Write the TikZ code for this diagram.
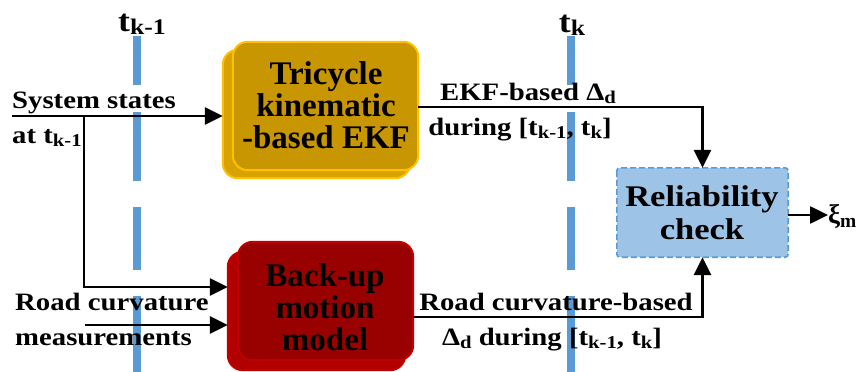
\documentclass[tikz,border=0pt]{standalone}
\usepackage{fontspec}
\setmainfont{Liberation Serif}
\newfontfamily\lblfont{Liberation Serif}[FakeStretch=1.15]
\usetikzlibrary{arrows.meta,calc}
\definecolor{tbar}{HTML}{5B9BD5}
\definecolor{goldF}{HTML}{C89600}
\definecolor{goldB}{HTML}{D8A200}
\definecolor{goldE}{HTML}{FFC000}
\definecolor{redF}{HTML}{990000}
\definecolor{redB}{HTML}{B00000}
\definecolor{redE}{HTML}{C00000}
\definecolor{relF}{HTML}{9DC3E6}
\definecolor{relE}{HTML}{5B9BD5}
\makeatletter
\newcommand\sbx[1]{\raisebox{-0.12em}{\fontsize{\strip@pt\dimexpr0.72\dimexpr\f@size pt\relax\relax}{1}\selectfont #1}}
\makeatother
\begin{document}
\begin{tikzpicture}[x=1pt,y=-1pt,
  tbarl/.style={draw=tbar,line width=8pt},
  lbl/.style={inner sep=0pt,font=\lblfont\bfseries\fontsize{25}{35}\selectfont},
  xilbl/.style={inner sep=0pt,font=\bfseries\fontsize{27}{30}\selectfont},
  toplbl/.style={inner sep=0pt,font=\lblfont\bfseries\fontsize{31}{34}\selectfont},
  btxt/.style={inner sep=0pt,align=center,font=\bfseries\fontsize{33}{32}\selectfont},
  rtxt/.style={inner sep=0pt,align=center,font=\lblfont\bfseries\fontsize{30}{33}\selectfont},
  frame/.style={inner sep=0pt,rectangle},
  arr/.style={line width=2.6pt,-{Triangle[length=18pt,width=17pt]}},
  ln/.style={line width=2.6pt}]
\useasboundingbox (0,0) rectangle (863,372);

% time bars
\foreach \x in {137,571}{
  \draw[tbarl] (\x,36) -- (\x,85);
  \draw[tbarl] (\x,112) -- (\x,181);
  \draw[tbarl] (\x,207) -- (\x,270);
  \draw[tbarl] (\x,296) -- (\x,372);
}
\node[toplbl,anchor=base] (tkm) at (142,31) {t\sbx{k-1}};
\node[toplbl,anchor=base] (tk) at (572,32) {t\sbx{k}};

% boxes (extent nodes)
\node[frame,minimum width=195pt,minimum height=136pt] (ekf) at (320.5,110) {};
\node[frame,minimum width=185pt,minimum height=128pt] (bk) at (320.5,306) {};
\node[frame,minimum width=171pt,minimum height=89pt] (rel) at (702.5,212.5) {};

% EKF box layers
\draw[goldE,line width=2pt,fill=goldB,rounded corners=15pt]
  (ekf.north west) ++(0,8) rectangle ($(ekf.south east)+(-8,0)$);
\draw[goldE,line width=2pt,fill=goldF,rounded corners=15pt]
  ($(ekf.north west)+(10,0)$) rectangle ($(ekf.south east)+(0,-8)$);
% Back-up box layers
\draw[redE,line width=2pt,fill=redB,rounded corners=15pt]
  (bk.north west) ++(0,10) rectangle ($(bk.south east)+(-8,0)$);
\draw[redE,line width=2pt,fill=redF,rounded corners=15pt]
  ($(bk.north west)+(10,0)$) rectangle ($(bk.south east)+(0,-10)$);
% Reliability box
\draw[relE,line width=1.6pt,dash pattern=on 6pt off 3pt,fill=relF,rounded corners=3pt]
  (rel.north west) rectangle (rel.south east);

\node[btxt] (ekft) at (326,105) {Tricycle\\kinematic\\-based EKF};
\node[btxt] (bkt) at (325,307) {Back-up\\motion\\model};
\node[rtxt] (relt) at (702,213) {Reliability\\check};

% coordinates
\coordinate (ssin) at (12,116);
\coordinate (br) at (84,116);
\coordinate (r2) at (0,287);
\coordinate (rcin) at (85,325);
\coordinate (ey) at (0,107);
\coordinate (by) at (0,317);
\coordinate (oy) at (0,215);

% connectors
\draw[arr] (ssin) -- (ssin -| ekf.west);
\draw[arr] (br) |- (bk.west |- r2);
\draw[arr] (rcin) -- (rcin -| bk.west);
\draw[arr] (ekf.east |- ey) -| (rel.north);
\draw[arr] (bk.east |- by) -| (rel.south);
\node[xilbl,anchor=west] (xi) at (828,217) {ξ\sbx{m}};
\draw[arr] (rel.east |- oy) -- (xi.west |- oy);

% labels
\node[lbl,anchor=base west] (ss1) at (12,108) {System states};
\node[lbl,anchor=base west] (ss2) at (12,143) {at t\sbx{k-1}};
\node[lbl,anchor=base west] (rc1) at (15,310) {Road curvature};
\node[lbl,anchor=base west] (rc2) at (15,345) {measurements};
\node[lbl,anchor=base] (ek1) at (528,100) {EKF-based Δ\sbx{d}};
\node[lbl,anchor=base] (ek2) at (520,135) {during [t\sbx{k-1}, t\sbx{k}]};
\node[lbl,anchor=base] (rb1) at (556,310) {Road curvature-based};
\node[lbl,anchor=base] (rb2) at (552,345) {Δ\sbx{d} during [t\sbx{k-1}, t\sbx{k}]};
\end{tikzpicture}
\end{document}
